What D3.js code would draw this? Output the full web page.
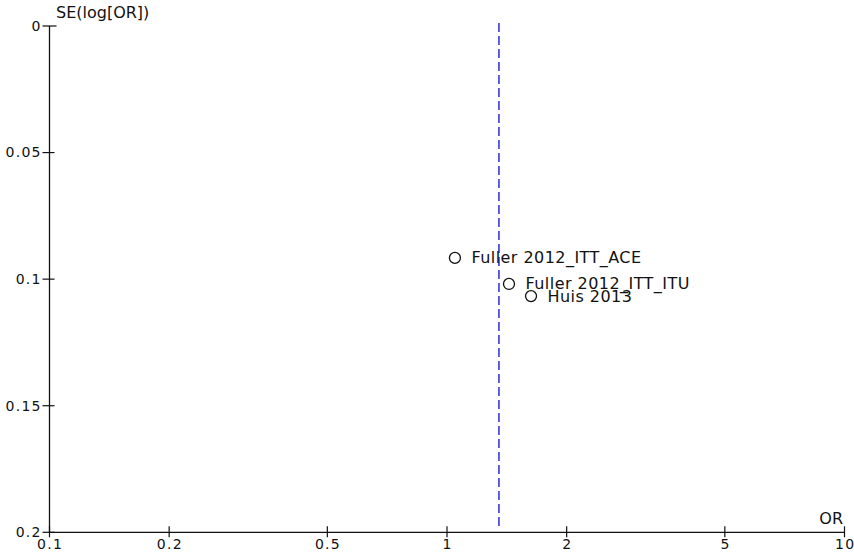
<!DOCTYPE html>
<html>
<head>
<meta charset="utf-8">
<script src="https://cdn.jsdelivr.net/npm/d3@7"></script>
<style>
  html, body { margin: 0; padding: 0; background: #fff; }
  svg text { font-family: "DejaVu Sans", sans-serif; fill: #111; }
</style>
</head>
<body>
<svg id="chart" width="854" height="555"></svg>
<script>
// Funnel plot: odds ratio vs standard error of log odds ratio
const studies = ["Fuller 2012_ITT_ACE", "Fuller 2012_ITT_ITU", "Huis 2013"];
const oddsRatios = [1.047, 1.432, 1.627];
const seLogOR = [0.0916, 0.1019, 0.1067];
const pooledOR = 1.351;

const xTicks = [0.1, 0.2, 0.5, 1, 2, 5, 10];
const yTicks = [0, 0.05, 0.1, 0.15, 0.2];

const svg = d3.select("#chart");
const plotLeft = 49.5, plotRight = 844.5, plotTop = 26, plotBottom = 532.3;

const x = d3.scaleLog().domain([0.1, 10]).range([plotLeft, plotRight]);
const y = d3.scaleLinear().domain([0, 0.2]).range([plotTop, plotBottom]);

const tickFont = 14, tickSpacing = 1.3;

// Y axis
const yAxisG = svg.append("g");
yAxisG.append("line")
  .attr("x1", plotLeft).attr("x2", plotLeft)
  .attr("y1", plotTop).attr("y2", plotBottom)
  .attr("stroke", "#111").attr("stroke-width", 1.3);
yAxisG.selectAll("line.tick").data(yTicks).join("line")
  .attr("class", "tick")
  .attr("x1", plotLeft - 7).attr("x2", d => d === 0 ? plotLeft + 7 : plotLeft + 5)
  .attr("y1", d => y(d)).attr("y2", d => y(d))
  .attr("stroke", "#111").attr("stroke-width", 1.2);
yAxisG.selectAll("text").data(yTicks).join("text")
  .attr("x", plotLeft - 9 + tickSpacing)
  .attr("y", d => y(d) + 4.8)
  .attr("text-anchor", "end")
  .attr("font-size", tickFont)
  .attr("letter-spacing", tickSpacing)
  .text(d => d3.format("~g")(d));

// X axis
const xAxisG = svg.append("g");
xAxisG.append("line")
  .attr("x1", plotLeft).attr("x2", plotRight)
  .attr("y1", plotBottom).attr("y2", plotBottom)
  .attr("stroke", "#111").attr("stroke-width", 1.3);
xAxisG.selectAll("line.tick").data(xTicks).join("line")
  .attr("class", "tick")
  .attr("x1", d => x(d)).attr("x2", d => x(d))
  .attr("y1", plotBottom - 6).attr("y2", plotBottom + 5)
  .attr("stroke", "#111").attr("stroke-width", 1.2);
xAxisG.selectAll("text").data(xTicks).join("text")
  .attr("x", d => x(d) + tickSpacing / 2)
  .attr("y", plotBottom + 16.5)
  .attr("text-anchor", "middle")
  .attr("font-size", tickFont)
  .attr("letter-spacing", tickSpacing)
  .text(d => String(d));

// Axis titles
svg.append("text")
  .attr("x", 56).attr("y", 18)
  .attr("font-size", 16)
  .text("SE(log[OR])");
svg.append("text")
  .attr("x", 843).attr("y", plotBottom - 8)
  .attr("text-anchor", "end")
  .attr("font-size", 16)
  .text("OR");

// Pooled estimate line
svg.append("line")
  .attr("x1", x(pooledOR)).attr("x2", x(pooledOR))
  .attr("y1", 23).attr("y2", plotBottom - 3)
  .attr("stroke", "#3b3bd6").attr("stroke-width", 1.6)
  .attr("stroke-dasharray", "9,4");

// Study points
const data = studies.map((s, i) => ({ name: s, or: oddsRatios[i], se: seLogOR[i] }));
const pts = svg.append("g");
pts.selectAll("circle").data(data).join("circle")
  .attr("cx", d => x(d.or)).attr("cy", d => y(d.se))
  .attr("r", 5.5)
  .attr("fill", "none").attr("stroke", "#111").attr("stroke-width", 1.3);
pts.selectAll("text").data(data).join("text")
  .attr("x", d => x(d.or) + 16.5)
  .attr("y", d => y(d.se) + 5.5)
  .attr("font-size", 16)
  .attr("letter-spacing", 0.45)
  .text(d => d.name);
</script>
</body>
</html>
